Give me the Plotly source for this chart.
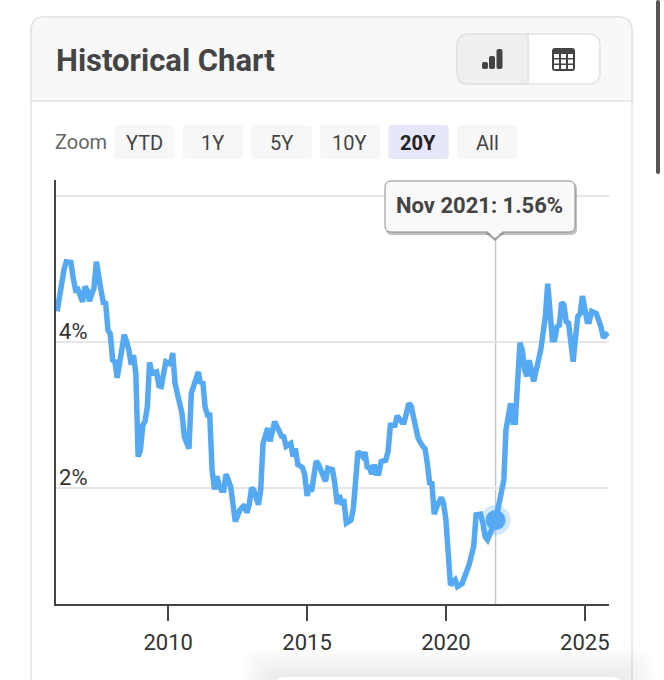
import plotly.graph_objects as go

W, H = 664, 680

dates = [
    "2006-01", "2006-02", "2006-04", "2006-05", "2006-07", "2006-08", "2006-09", "2006-10", "2006-11", "2006-12",
    "2007-01", "2007-02", "2007-03", "2007-04", "2007-05", "2007-06", "2007-07", "2007-08", "2007-09", "2007-10",
    "2007-11", "2007-12", "2008-01", "2008-02", "2008-03", "2008-04", "2008-06", "2008-07", "2008-08", "2008-09",
    "2008-10", "2008-11", "2008-12", "2009-01", "2009-02", "2009-03", "2009-04", "2009-05", "2009-06", "2009-08",
    "2009-09", "2009-10", "2009-11", "2009-12", "2010-02", "2010-03", "2010-04", "2010-07", "2010-08", "2010-10",
    "2010-11", "2010-12", "2011-02", "2011-03", "2011-04", "2011-05", "2011-06", "2011-07", "2011-08", "2011-09",
    "2011-10", "2011-11", "2011-12", "2012-01", "2012-02", "2012-04", "2012-05", "2012-06", "2012-08", "2012-10",
    "2012-11", "2012-12", "2013-01", "2013-02", "2013-04", "2013-05", "2013-06", "2013-08", "2013-09", "2013-11",
    "2013-12", "2014-02", "2014-03", "2014-04", "2014-06", "2014-07", "2014-08", "2014-09", "2014-11", "2014-12",
    "2015-01", "2015-02", "2015-03", "2015-05", "2015-06", "2015-08", "2015-09", "2015-10", "2015-12", "2016-01",
    "2016-02", "2016-03", "2016-04", "2016-05", "2016-06", "2016-08", "2016-09", "2016-11", "2017-01", "2017-02",
    "2017-03", "2017-04", "2017-05", "2017-06", "2017-07", "2017-08", "2017-09", "2017-11", "2017-12", "2018-01",
    "2018-03", "2018-04", "2018-06", "2018-07", "2018-09", "2018-10", "2018-12", "2019-01", "2019-03", "2019-04",
    "2019-05", "2019-06", "2019-07", "2019-08", "2019-09", "2019-11", "2019-12", "2020-01", "2020-03", "2020-05",
    "2020-06", "2020-08", "2020-11", "2021-01", "2021-02", "2021-04", "2021-05", "2021-06", "2021-07", "2021-09",
    "2021-10-15", "2021-12", "2022-02", "2022-03", "2022-05", "2022-06", "2022-07", "2022-09", "2022-10", "2022-11",
    "2022-12", "2023-01", "2023-03", "2023-06", "2023-08", "2023-09", "2023-10", "2023-11", "2023-12", "2024-01",
    "2024-02", "2024-03", "2024-04", "2024-05", "2024-06", "2024-08", "2024-09", "2024-10", "2024-11", "2024-12",
    "2025-02", "2025-03", "2025-04", "2025-06", "2025-08", "2025-09", "2025-11",
]
values = [
    4.42, 4.64, 4.99, 5.10, 5.09, 4.87, 4.71, 4.72, 4.60, 4.55,
    4.76, 4.71, 4.56, 4.69, 4.74, 5.10, 4.95, 4.71, 4.54, 4.53,
    4.16, 4.11, 3.75, 3.73, 3.51, 3.69, 4.10, 4.01, 3.89, 3.69,
    3.82, 3.57, 2.43, 2.52, 2.86, 2.91, 3.11, 3.72, 3.57, 3.59,
    3.40, 3.39, 3.53, 3.73, 3.70, 3.85, 3.43, 3.02, 2.70, 2.54,
    3.30, 3.39, 3.59, 3.43, 3.46, 3.11, 3.00, 3.00, 2.25, 1.98,
    2.16, 2.04, 1.97, 1.97, 2.19, 2.02, 1.79, 1.54, 1.70, 1.77,
    1.66, 1.77, 2.00, 1.97, 1.77, 1.97, 2.61, 2.82, 2.64, 2.91,
    2.84, 2.71, 2.70, 2.57, 2.61, 2.43, 2.54, 2.32, 2.28, 2.18,
    1.89, 2.04, 1.95, 2.37, 2.32, 2.18, 2.09, 2.27, 2.25, 2.06,
    1.78, 1.90, 1.80, 1.81, 1.52, 1.56, 1.72, 2.50, 2.43, 2.49,
    2.29, 2.28, 2.19, 2.32, 2.20, 2.20, 2.36, 2.38, 2.50, 2.86,
    2.86, 2.99, 2.90, 2.90, 3.16, 3.12, 2.80, 2.68, 2.57, 2.54,
    2.34, 2.07, 2.06, 1.64, 1.74, 1.87, 1.79, 1.56, 0.67, 0.74,
    0.65, 0.69, 0.95, 1.20, 1.63, 1.64, 1.52, 1.33, 1.29, 1.45,
    1.56, 1.79, 2.11, 2.80, 3.16, 2.90, 2.90, 3.99, 3.89, 3.62,
    3.53, 3.75, 3.46, 3.89, 4.35, 4.80, 4.48, 4.03, 4.03, 4.21,
    4.23, 4.54, 4.51, 4.28, 4.26, 3.73, 4.07, 4.35, 4.39, 4.63,
    4.28, 4.28, 4.42, 4.39, 4.21, 4.06, 4.13,
]

y_ticks = [2, 4, 6]
y_labels = ["2%", "4%", ""]
selected_date = "2021-10-15"
selected_value = 1.56
tooltip_text = "Nov 2021: 1.56%"
zoom_buttons = ["YTD", "1Y", "5Y", "10Y", "20Y", "All"]
active_button = "20Y"

LINE = "#55a9f3"
FONT = "Roboto"


def px(x):
    return x / W


def py(y):
    return 1 - y / H


def rounded(x0, y0, x1, y1, r=8, corners=(1, 1, 1, 1)):
    """Rounded box path in page pixels, turned into paper coordinates."""
    tl, tr, br, bl = [r * c for c in corners]
    pts = f"M {px(x0 + tl)} {py(y0)} L {px(x1 - tr)} {py(y0)} "
    pts += f"Q {px(x1)} {py(y0)} {px(x1)} {py(y0 + tr)} L {px(x1)} {py(y1 - br)} "
    pts += f"Q {px(x1)} {py(y1)} {px(x1 - br)} {py(y1)} L {px(x0 + bl)} {py(y1)} "
    pts += f"Q {px(x0)} {py(y1)} {px(x0)} {py(y1 - bl)} L {px(x0)} {py(y0 + tl)} "
    pts += f"Q {px(x0)} {py(y0)} {px(x0 + tl)} {py(y0)} Z"
    return pts


def box(x0, y0, x1, y1, fill, r=8, corners=(1, 1, 1, 1), line=None, layer="below", opacity=1):
    return dict(type="path", xref="paper", yref="paper", path=rounded(x0, y0, x1, y1, r, corners),
                fillcolor=fill, line=dict(color=line or fill, width=1.5 if line else 0),
                layer=layer, opacity=opacity)


def text(x, y, s, size, color="#444444", bold=False, anchor="center"):
    return dict(xref="paper", yref="paper", x=px(x), y=py(y), text=f"<b>{s}</b>" if bold else s,
                showarrow=False, xanchor=anchor, yanchor="middle",
                font=dict(family=FONT, size=size, color=color))


shapes = []
annotations = []

# card and header
shapes.append(box(31, 17, 632, 720, "#ffffff", r=14, line="#e4e4e4"))
shapes.append(box(31, 17, 632, 101, "#f8f8f8", r=14, corners=(1, 1, 0, 0), line="#e4e4e4"))
annotations.append(text(54, 60, "Historical Chart", 31, bold=True, anchor="left"))

# chart / table toggle
shapes.append(box(457, 34, 600, 84, "#ffffff", r=12, line="#e2e2e2"))
shapes.append(box(457, 34, 528, 84, "#efefef", r=12, corners=(1, 0, 0, 1), line="#e2e2e2"))
for x0, y0, x1 in [(482, 62, 488), (489, 56, 495), (496.5, 49, 502.5)]:
    shapes.append(box(x0, y0, x1, 69, "#444444", r=2))
shapes.append(box(552, 48, 575, 71, "#444444", r=3))
for x0, x1 in [(554, 559), (561, 566), (568, 573)]:
    for y0, y1 in [(54, 58), (59.5, 63.5), (65, 69)]:
        shapes.append(box(x0, y0, x1, y1, "#ffffff", r=0))

# zoom buttons
annotations.append(text(81, 142, "Zoom", 20, color="#666666"))
for i, label in enumerate(zoom_buttons):
    x0 = 114 + i * 68.6
    on = label == active_button
    shapes.append(box(x0, 125, x0 + 60.5, 159, "#e6e8fa" if on else "#f7f7f7", r=4))
    annotations.append(text(x0 + 30, 142.5, label, 20, color="#222222" if on else "#444444", bold=on))

# crosshair
shapes.append(dict(type="line", xref="x", yref="paper", x0=selected_date, x1=selected_date,
                   y0=py(604), y1=py(236), line=dict(color="#c8c8c8", width=1.5), layer="below"))

# tooltip with shadow
tip = f"M {px(485)} {py(233)} L {px(495)} {py(241)} L {px(505)} {py(233)} Z"
shapes.append(box(386, 183, 577, 235, "#777777", r=6, layer="above", opacity=0.45))
shapes.append(dict(type="path", xref="paper", yref="paper", path=tip, fillcolor="#777777",
                   line=dict(width=0), layer="above", opacity=0.6))
shapes.append(dict(type="path", xref="paper", yref="paper", path=rounded(385, 181, 575, 232, 6),
                   fillcolor="#f9f9f9", line=dict(color="#8a8a8a", width=1), layer="above"))
shapes.append(dict(type="path", xref="paper", yref="paper",
                   path=f"M {px(487)} {py(231)} L {px(495)} {py(238)} L {px(503)} {py(231)} Z",
                   fillcolor="#f9f9f9", line=dict(width=0), layer="above"))
annotations.append(text(479, 205, tooltip_text, 22, bold=True))

# sheet coming up from the bottom of the page, with its soft shadow
for i in range(10):
    grow = 30 - i * 3
    shapes.append(box(272 - grow, 677 - grow, 625 + grow, 700, "rgba(0,0,0,0.006)", r=20, layer="above"))
shapes.append(box(272, 677, 625, 700, "#ffffff", r=14, layer="above"))

# page scrollbar
shapes.append(box(656, 0, 660, 174, "#555555", r=2))

fig = go.Figure()
fig.add_trace(go.Scatter(x=dates, y=values, mode="lines", hoverinfo="skip",
                         line=dict(color=LINE, width=5.5)))
fig.add_trace(go.Scatter(x=[selected_date], y=[selected_value], mode="markers", hoverinfo="skip",
                         marker=dict(color=LINE, size=30, opacity=0.28)))
fig.add_trace(go.Scatter(x=[selected_date], y=[selected_value], mode="markers", hoverinfo="skip",
                         marker=dict(color=LINE, size=20)))

fig.update_layout(
    width=W, height=H, autosize=False, showlegend=False,
    margin=dict(l=0, r=0, t=0, b=0),
    paper_bgcolor="#ffffff", plot_bgcolor="rgba(0,0,0,0)",
    shapes=shapes, annotations=annotations,
    font=dict(family=FONT),
    xaxis=dict(
        domain=[px(56), px(609)], range=["2005-12-17", "2025-11-15"], type="date",
        tick0="2010-01-01", dtick="M60", tickformat="%Y", showgrid=False, zeroline=False,
        ticks="outside", ticklen=15, tickwidth=1.5, tickcolor="#444444",
        showline=True, linecolor="#444444", linewidth=1.5, ticklabelstandoff=3,
        tickfont=dict(family=FONT, size=22, color="#333333"),
    ),
    yaxis=dict(
        domain=[py(604), py(180)], range=[0.41, 6.22],
        tickmode="array", tickvals=y_ticks, ticktext=y_labels, ticklabelposition="inside top",
        ticklabelstandoff=4, ticklabelshift=5,
        showgrid=True, gridcolor="#e6e6e6", gridwidth=1.5, zeroline=False, ticks="",
        showline=True, linecolor="#444444", linewidth=1.5,
        tickfont=dict(family=FONT, size=22, color="#333333"),
    ),
)

fig.write_html("out.html", config=dict(displayModeBar=False),
               post_script="document.body.style.margin='0';document.body.style.overflow='hidden';")
